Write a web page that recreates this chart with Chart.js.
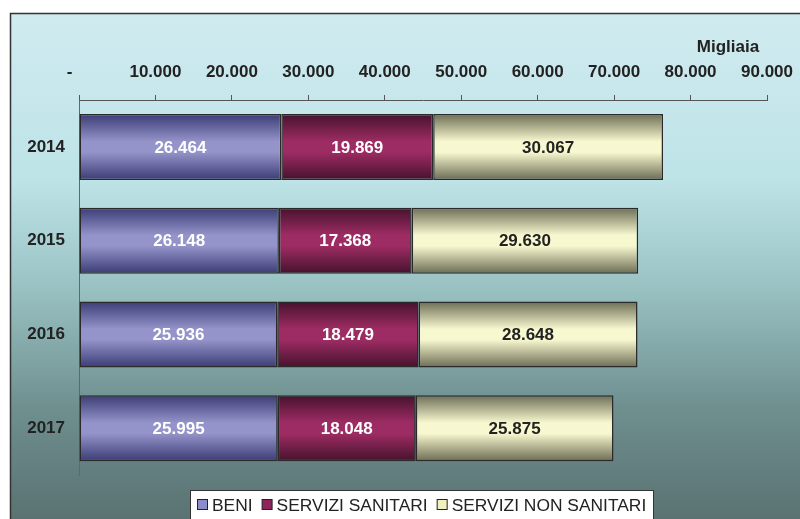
<!DOCTYPE html>
<html>
<head>
<meta charset="utf-8">
<script src="https://cdn.jsdelivr.net/npm/chart.js@4/dist/chart.umd.min.js"></script>
<style>
html,body{margin:0;padding:0;background:#fff;}
canvas{display:block;}
</style>
</head>
<body>
<canvas id="c" width="800" height="519"></canvas>
<script>
const categories = ['2014', '2015', '2016', '2017'];
const seriesNames = ['BENI', 'SERVIZI SANITARI', 'SERVIZI NON SANITARI'];
const beni = [26464, 26148, 25936, 25995];
const serviziSanitari = [19869, 17368, 18479, 18048];
const serviziNonSanitari = [30067, 29630, 28648, 25875];
const xTicks = [0, 10000, 20000, 30000, 40000, 50000, 60000, 70000, 80000, 90000];
const unitLabel = 'Migliaia';

const FONT = '"Liberation Sans", Arial, sans-serif';
const BAR_PCT = 0.704;

const palettes = [
  {dark: '#3c3c76', light: '#9494ca', solid: '#8c8cc8', label: '#ffffff'},
  {dark: '#45122c', light: '#9e2c64', solid: '#8e2458', label: '#ffffff'},
  {dark: '#6c6c54', light: '#f8f8d0', solid: '#f0f0c0', label: '#222222'}
];

function fmt(v) {
  return String(v).replace(/\B(?=(\d{3})+(?!\d))/g, '.');
}

function barGradient(pal) {
  return function(ctx) {
    const chart = ctx.chart;
    const ys = chart.scales && chart.scales.y;
    if (ctx.type !== 'data' || !ys || !chart.chartArea || ys.height <= 0) return pal.solid;
    const c = ys.getPixelForValue(ctx.dataIndex);
    const h = (ys.height / categories.length) * BAR_PCT;
    const g = chart.ctx.createLinearGradient(0, c - h / 2, 0, c + h / 2);
    g.addColorStop(0, pal.dark);
    g.addColorStop(0.42, pal.light);
    g.addColorStop(0.58, pal.light);
    g.addColorStop(1, pal.dark);
    return g;
  };
}

const bgPlugin = {
  id: 'bg',
  beforeDraw(chart) {
    const ctx = chart.ctx;
    ctx.save();
    ctx.fillStyle = '#ffffff';
    ctx.fillRect(0, 0, chart.width, chart.height);
    const g = ctx.createLinearGradient(0, 14, 0, chart.height);
    g.addColorStop(0, '#d0ebf0');
    g.addColorStop(0.33, '#bde3e7');
    g.addColorStop(0.55, '#98c0c1');
    g.addColorStop(0.78, '#6f8f8f');
    g.addColorStop(1, '#5a7272');
    ctx.fillStyle = g;
    ctx.fillRect(11, 14, chart.width - 11, chart.height - 14);
    ctx.strokeStyle = '#333333';
    ctx.lineWidth = 1.5;
    ctx.beginPath();
    ctx.moveTo(10.5, chart.height + 2);
    ctx.lineTo(10.5, 13.5);
    ctx.lineTo(chart.width + 2, 13.5);
    ctx.stroke();
    ctx.restore();
  }
};

const labelPlugin = {
  id: 'vals',
  afterDatasetsDraw(chart) {
    const ctx = chart.ctx;
    ctx.save();
    ctx.font = 'bold 17px ' + FONT;
    ctx.textAlign = 'center';
    ctx.textBaseline = 'middle';
    chart.data.datasets.forEach((ds, di) => {
      const meta = chart.getDatasetMeta(di);
      meta.data.forEach((el, i) => {
        ctx.fillStyle = palettes[di].label;
        ctx.fillText(fmt(ds.data[i]), (el.x + el.base) / 2, el.y + 1);
      });
    });
    ctx.restore();
  },
  afterDraw(chart) {
    const ctx = chart.ctx;
    ctx.save();
    ctx.font = 'bold 17px ' + FONT;
    ctx.fillStyle = '#222222';
    ctx.textAlign = 'center';
    ctx.textBaseline = 'middle';
    ctx.fillText(unitLabel, 728, 47);
    ctx.fillStyle = '#ffffff';
    ctx.fillRect(190.5, 490.5, 463, 40);
    ctx.strokeStyle = '#333333';
    ctx.lineWidth = 1;
    ctx.strokeRect(190.5, 490.5, 463, 40);
    ctx.font = '17.4px ' + FONT;
    ctx.textAlign = 'left';
    let x = 197;
    const cy = 505;
    seriesNames.forEach((name, i) => {
      ctx.fillStyle = palettes[i].solid;
      ctx.fillRect(x + 0.5, cy - 5.5, 10, 10);
      ctx.strokeStyle = '#222222';
      ctx.strokeRect(x + 0.5, cy - 5.5, 10, 10);
      ctx.fillStyle = '#222222';
      ctx.fillText(name, x + 15, cy + 1);
      x += 15 + ctx.measureText(name).width + 9;
    });
    ctx.restore();
  }
};

const seriesData = [beni, serviziSanitari, serviziNonSanitari];

new Chart(document.getElementById('c'), {
  type: 'bar',
  data: {
    labels: categories,
    datasets: seriesNames.map((name, i) => ({
      label: name,
      data: seriesData[i],
      backgroundColor: barGradient(palettes[i]),
      borderColor: '#2a2a2a',
      borderWidth: 1.5,
      borderSkipped: false,
      barPercentage: BAR_PCT,
      categoryPercentage: 1
    }))
  },
  options: {
    indexAxis: 'y',
    responsive: false,
    animation: false,
    devicePixelRatio: 1,
    layout: {padding: {left: 0, right: 33, top: 0, bottom: 44}},
    plugins: {legend: {display: false}, tooltip: {enabled: false}},
    scales: {
      x: {
        position: 'top',
        stacked: true,
        min: 0,
        max: 90000,
        afterBuildTicks(scale) { scale.ticks = xTicks.map(v => ({value: v})); },
        afterFit(scale) { scale.height = 100; scale.paddingLeft = 0; scale.paddingRight = 0; },
        ticks: {
          autoSkip: false,
          maxRotation: 0,
          padding: 12,
          color: '#222222',
          font: {family: FONT, size: 17, weight: 'bold'},
          callback(v) { return v === 0 ? '-    ' : fmt(v); }
        },
        grid: {display: true, drawOnChartArea: false, drawTicks: true, tickLength: 5, color: '#555555', lineWidth: 1},
        border: {display: true, color: '#555555', width: 1}
      },
      y: {
        stacked: true,
        afterFit(scale) { scale.width = 79; },
        ticks: {
          padding: 14,
          color: '#222222',
          font: {family: FONT, size: 17, weight: 'bold'}
        },
        grid: {display: true, drawOnChartArea: false, drawTicks: false, tickLength: 0},
        border: {display: true, color: '#666666', width: 1}
      }
    }
  },
  plugins: [bgPlugin, labelPlugin]
});
</script>
</body>
</html>
